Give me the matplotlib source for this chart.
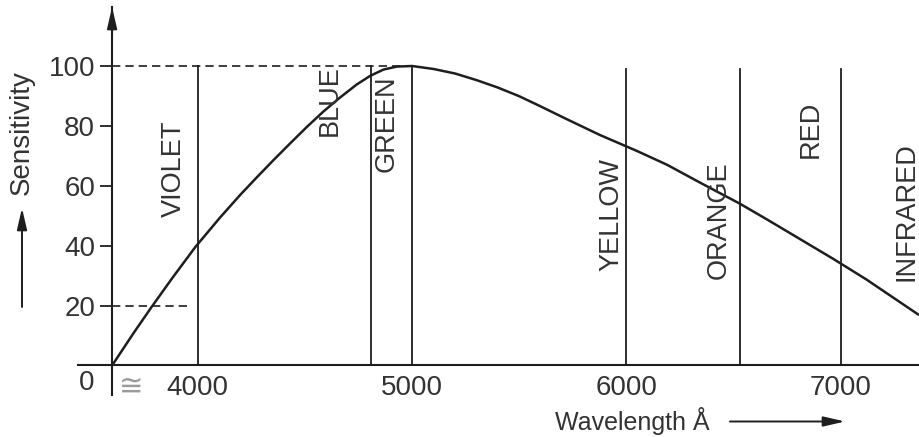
import matplotlib
matplotlib.use("Agg")
import matplotlib.pyplot as plt

plt.rcParams['font.family'] = ['Liberation Sans', 'DejaVu Sans']

# Data
wavelength = [3600, 3700, 3785, 3885, 3990, 4105, 4197, 4275, 4352, 4430, 4508, 4586,
              4664, 4741, 4804, 4866, 4928, 5000, 5100, 5200, 5300, 5400, 5500, 5600,
              5720, 5875, 6050, 6190, 6345, 6530, 6655, 6810, 6965, 7120, 7362]
sensitivity = [0, 10.8, 19.6, 29.6, 39.7, 49.5, 56.9, 62.8, 68.5, 74.1, 79.6, 84.8,
               89.5, 93.8, 96.7, 98.8, 99.8, 100, 99.0, 97.5, 95.3, 92.8, 89.9, 86.5,
               82.3, 77.0, 71.6, 67.0, 61.0, 54.0, 48.8, 42.2, 35.6, 28.7, 17.0]

band_names = ['VIOLET', 'BLUE', 'GREEN', 'YELLOW', 'ORANGE', 'RED', 'INFRARED']
band_edges = [4000, 4810, 5000, 6000, 6530, 7000]
edge_tops = [100, 100, 100, 99, 99, 99]

y_ticks = [20, 40, 60, 80, 100]
x_ticks = [4000, 5000, 6000, 7000]
origin_x = 3600

# label centres (layout only)
label_pos = [(3889, 65.6), (4617, 88.3), (4883, 80.6), (5930, 50.3),
             (6432, 48.6), (6861, 79), (7305, 51.3)]

ink = '#1e1e1e'
txt = '#333333'

fig = plt.figure(figsize=(9.19, 4.37), dpi=100)
ax = fig.add_axes([78 / 919, 42 / 437, 841 / 919, 388 / 437])
ax.set_xlim(3441, 7365)
ax.set_ylim(-9.85, 119.7)

ax.plot(wavelength, sensitivity, color=ink, lw=1.8, solid_capstyle='round',
        solid_joinstyle='round')

for x, top in zip(band_edges, edge_tops):
    ax.plot([x, x], [0, top], color=ink, lw=1.3)

# dashed guides
ax.plot([origin_x, 4960], [100, 100], color=ink, lw=1.2, ls=(0, (5, 3)))
ax.plot([origin_x, 3965], [20, 20], color=ink, lw=1.2, ls=(0, (5, 3)))

for name, (lx, ly) in zip(band_names, label_pos):
    ax.text(lx, ly, name, rotation=90, ha='center', va='center',
            fontsize=19.5, color=txt)

# axes through the origin
for side in ['top', 'right']:
    ax.spines[side].set_visible(False)
ax.spines['left'].set_position(('data', origin_x))
ax.spines['bottom'].set_position(('data', 0))
for side in ['left', 'bottom']:
    ax.spines[side].set_linewidth(1.5)
    ax.spines[side].set_color(ink)

ax.set_yticks(y_ticks)
ax.set_xticks(x_ticks)
ax.tick_params(axis='y', direction='out', length=8.6, width=1.3, pad=3.6,
               labelsize=20, labelcolor=txt, color=ink)
ax.tick_params(axis='x', length=0, pad=7.2, labelsize=20, labelcolor=txt)

arrow = dict(arrowstyle='-|>,head_length=0.65,head_width=0.15',
             mutation_scale=20, color=ink, lw=1.4, shrinkA=0, shrinkB=0)

# arrow head on the y axis
ax.annotate('', xy=(origin_x, 119.7), xytext=(origin_x, 110),
            arrowprops=arrow, annotation_clip=False)

# axis captions with arrows
fig.text(22, 304, 'Sensitivity', transform=None, rotation=90, ha='center',
         va='center', fontsize=20, color=txt)
ax.annotate('', xy=(22, 229), xytext=(22, 130), xycoords='figure pixels',
            textcoords='figure pixels', arrowprops=arrow)
fig.text(555, 7, 'Wavelength Å', transform=None, ha='left', va='baseline',
         fontsize=18, color=txt)
ax.annotate('', xy=(845, 15.5), xytext=(730, 15.5), xycoords='figure pixels',
            textcoords='figure pixels', arrowprops=arrow)

fig.text(87, 54, '0', transform=None, ha='center', va='center', fontsize=20, color=txt)
fig.text(131, 50, '≅', transform=None, ha='center', va='center', fontsize=21,
         color='#9a9a9a')

fig.savefig('out.png', dpi=100)
